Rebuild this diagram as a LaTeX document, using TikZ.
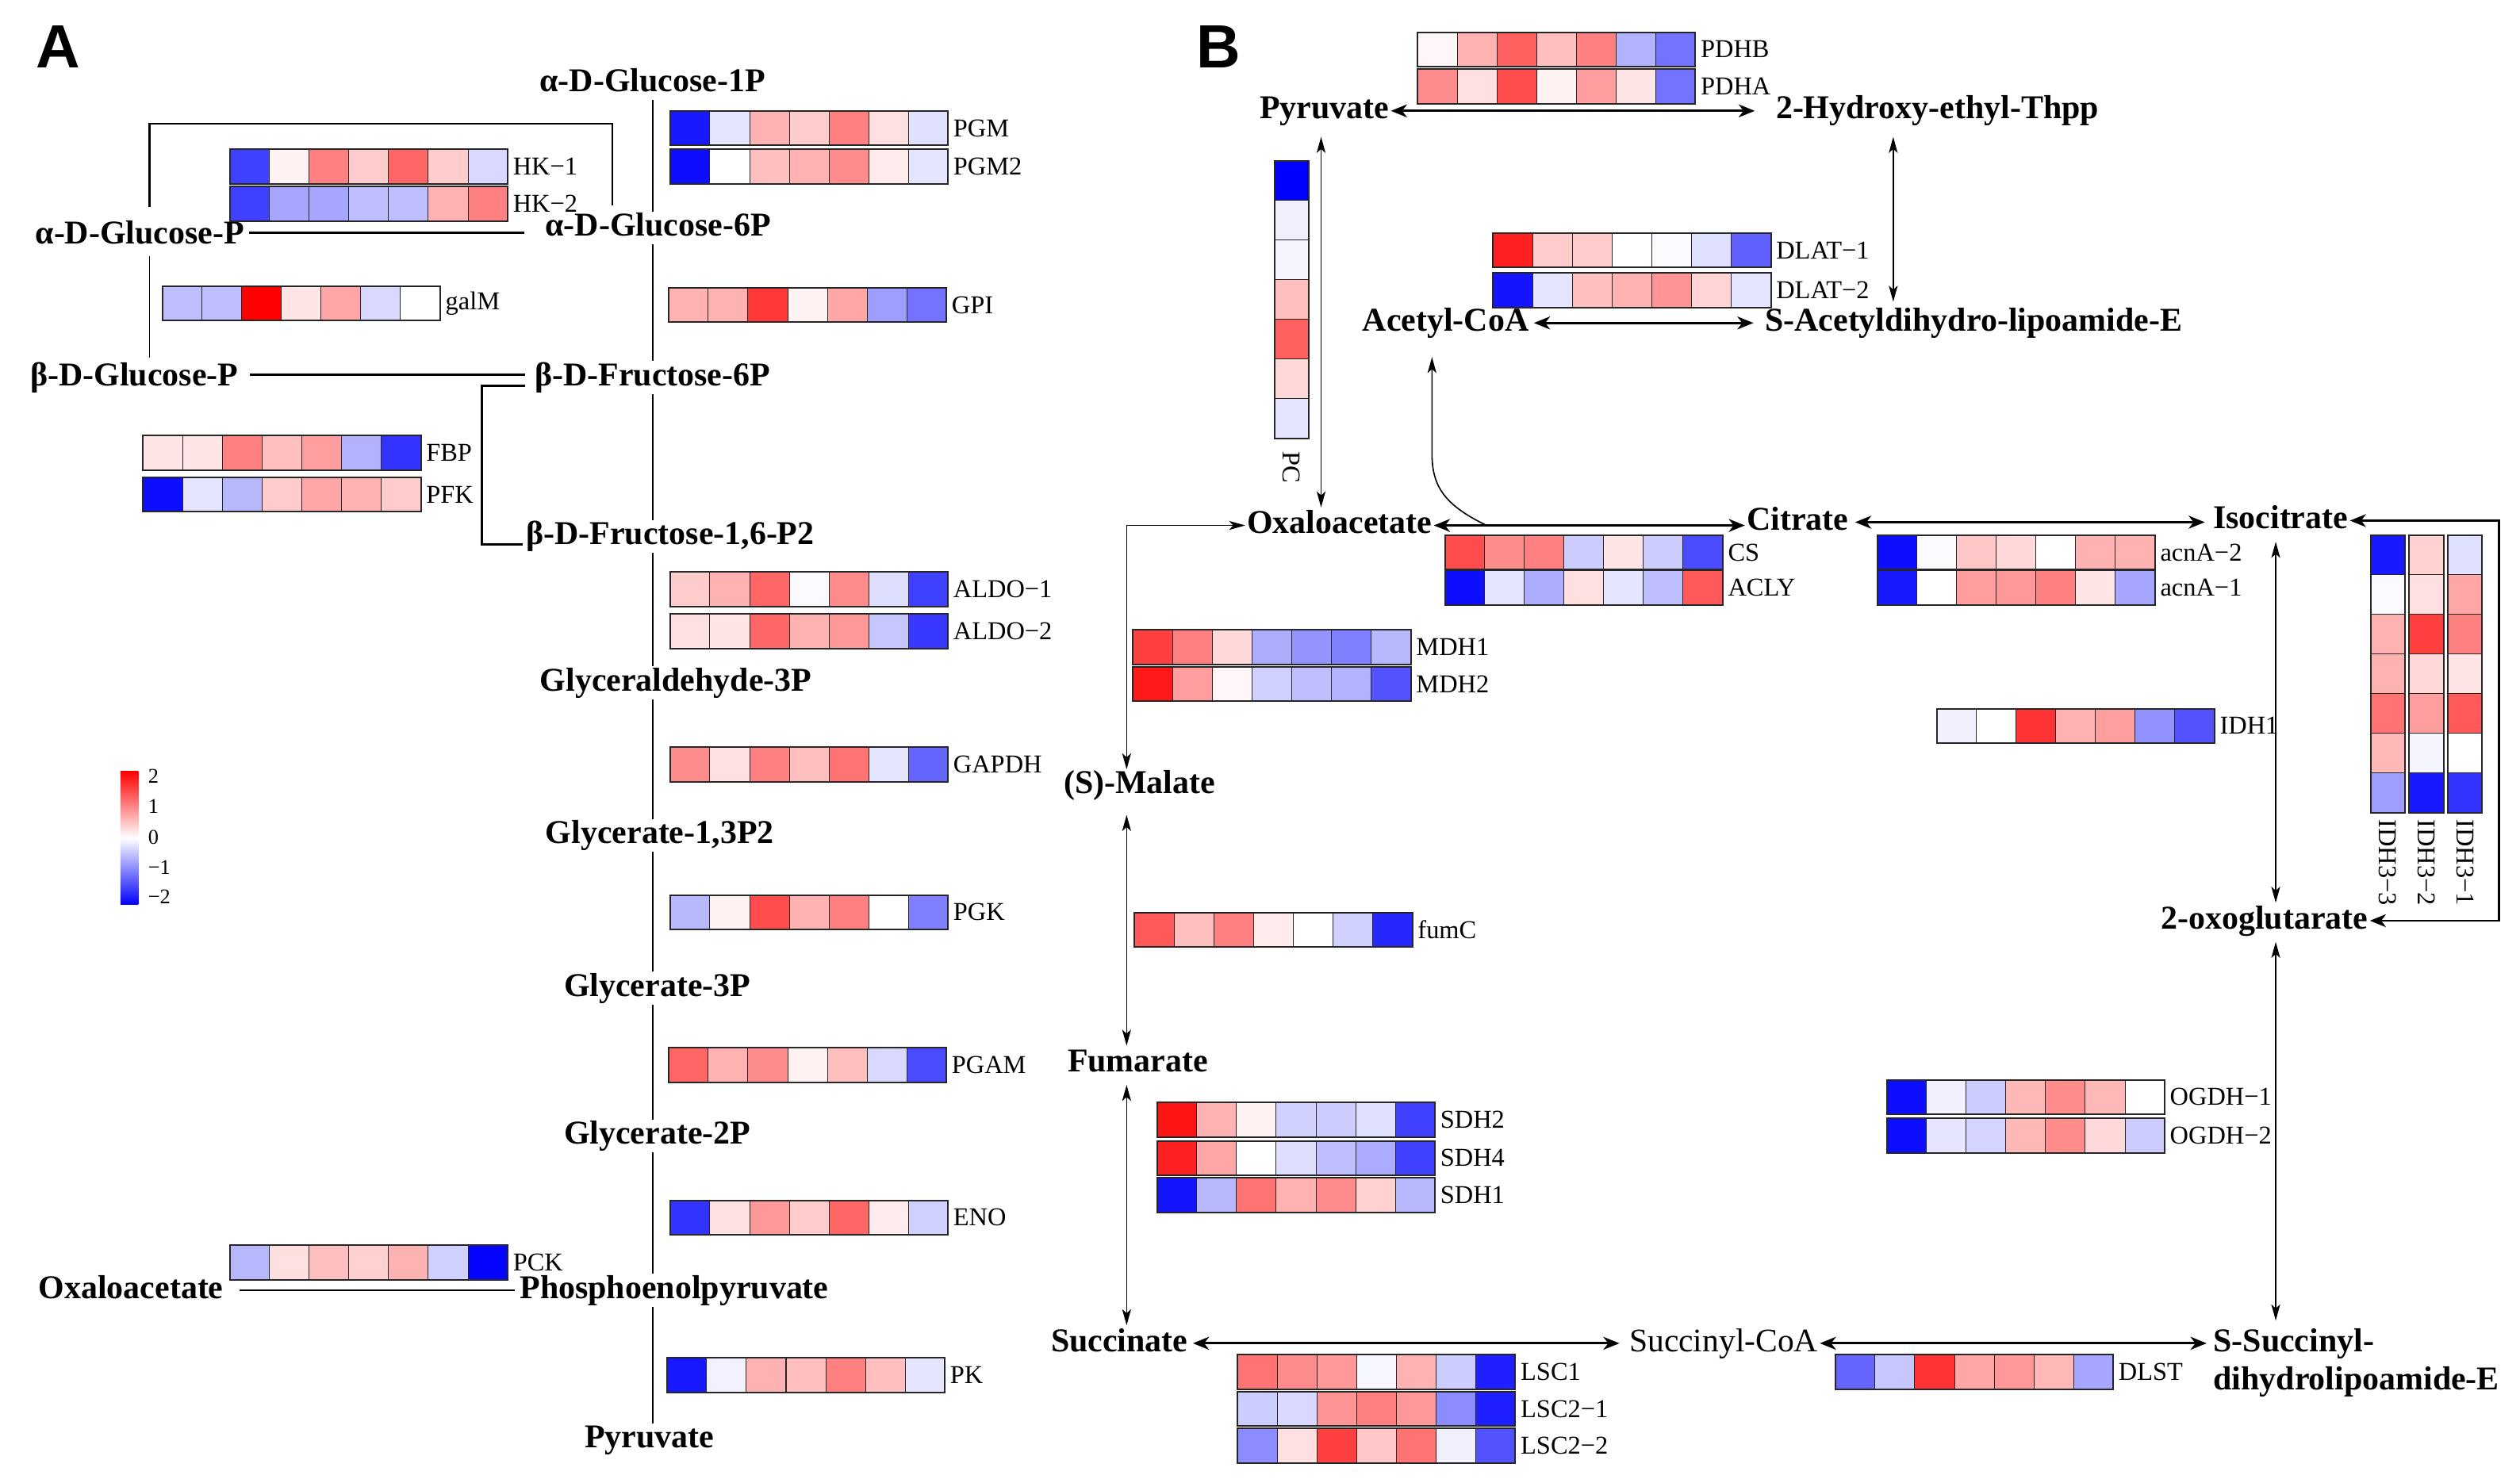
\documentclass[tikz,border=0pt]{standalone}
\usepackage{fontspec}
\setmainfont{Liberation Serif}
\newfontfamily\letterfont{Liberation Sans}
\usetikzlibrary{arrows.meta}
\newcommand\hmcol[1]{\ifnum#1<0 \edef\hmp{\the\numexpr 0-(#1)\relax}\colorlet{hmc}{blue!\hmp!white}\else\colorlet{hmc}{red!#1!white}\fi}
% horizontal heat row: name, x, y, values, label
\newcommand\hrow[5]{%
  \foreach \v [count=\i from 0] in {#4}{%
    \hmcol{\v}%
    \filldraw[cellst, fill=hmc] ({#2+\i*24.7},#3) rectangle ++(24.7,21.5);
  }
  \draw[outerst] (#2,#3) rectangle ++(172.9,21.5);
  \node[gene, anchor=west] (#1) at ({#2+175},{#3+10.75}) {#5};
}
% vertical heat column: x, y, values
\newcommand\vcol[3]{%
  \foreach \v [count=\i from 0] in {#3}{%
    \hmcol{\v}%
    \filldraw[cellst, fill=hmc] (#1,{#2+\i*24.7}) rectangle ++(21.5,24.7);
  }
  \draw[outerst] (#1,#2) rectangle ++(21.5,172.9);
}
\tikzset{
  cellst/.style={draw=black!85, line width=0.5pt},
  outerst/.style={draw=black!85, line width=1pt},
  met/.style={font=\bfseries\fontsize{20.7}{24}\selectfont, inner sep=1pt, text height=14pt, text depth=4pt},
  metr/.style={font=\fontsize{20.5}{24}\selectfont, inner sep=1pt, text height=14pt, text depth=4pt},
  gene/.style={font=\fontsize{16}{18}\selectfont, inner sep=1pt},
  leg/.style={font=\fontsize{13}{14}\selectfont, inner sep=0pt, anchor=west},
  pl/.style={line width=0.9pt},
  plh/.style={line width=1.4pt},
  harr/.style={line width=1.5pt, {Stealth[length=10pt,width=8pt,inset=3pt]}-{Stealth[length=10pt,width=8pt,inset=3pt]}},
  varr/.style={line width=0.8pt, {Stealth[length=10pt,width=5.5pt,inset=2.5pt]}-{Stealth[length=10pt,width=5.5pt,inset=2.5pt]}},
}
\begin{document}
\begin{tikzpicture}[x=1pt,y=-1pt]
\useasboundingbox (0,0) rectangle (1568,920);
% ---------------- Panel A ----------------
\node[font=\letterfont\bfseries\fontsize{38}{40}\selectfont, inner sep=0pt] (lA) at (36,29) {A};
\node[met] (g1p) at (406,52) {α-D-Glucose-1P};
\node[met] (agp) at (87,147) {α-D-Glucose-P};
\node[met] (g6p) at (409.5,142) {α-D-Glucose-6P};
\node[met] (bgp) at (83.5,235) {β-D-Glucose-P};
\node[met] (f6p) at (406,235) {β-D-Fructose-6P};
\node[met] (f16) at (417,334) {β-D-Fructose-1,6-P2};
\node[met] (gap) at (420.5,425) {Glyceraldehyde-3P};
\node[met] (g13) at (410.5,520) {Glycerate-1,3P2};
\node[met] (g3p) at (409,615) {Glycerate-3P};
\node[met] (g2p) at (409,707) {Glycerate-2P};
\node[met] (oxaA) at (81.5,803) {Oxaloacetate};
\node[met] (pep) at (419.5,803) {Phosphoenolpyruvate};
\node[met] (pyrA) at (404,896) {Pyruvate};

\coordinate (cA) at (406,0);
\foreach \a/\b in {g1p/g6p,g6p/f6p,f6p/f16,f16/gap,gap/g13,g13/g3p,g3p/g2p,g2p/pep,pep/pyrA}{
  \draw[pl] (\a.south -| cA) -- (\b.north -| cA);
}
\coordinate (bkL) at (93,77);
\coordinate (bkR) at (381,77);
\draw[plh, shorten <=8pt, shorten >=4pt] (agp.north -| bkL) -- (bkL) -- (bkR) -- (g6p.north -| bkR);
\draw[plh, shorten <=2pt, shorten >=12pt] ([yshift=2pt]agp.east) -- ([yshift=2pt]agp.east -| g6p.west);
\draw[pl, shorten <=2pt, shorten >=2pt] (agp.south -| bkL) -- (bgp.north -| bkL);
\draw[plh, shorten <=6pt, shorten >=5pt] ([yshift=2pt]bgp.east) -- ([yshift=2pt]bgp.east -| f6p.west);
\coordinate (brk) at (300,0);
\draw[plh] ([xshift=-5pt,yshift=-5pt]f6p.west) -| ([yshift=-5pt]f16.west -| brk) -- ([xshift=-1pt,yshift=-5pt]f16.west);
\draw[plh, shorten <=9pt, shorten >=2pt] (oxaA.east) -- (oxaA.east -| pep.west);

\hrow{gHKa}{143}{93}{-75,5,50,20,60,20,-15}{HK−1}
\hrow{gHKb}{143}{116}{-75,-35,-35,-25,-25,30,50}{HK−2}
\hrow{gPGM}{417}{69}{-90,-10,30,20,50,12,-12}{PGM}
\hrow{gPGMb}{417}{93}{-95,0,25,30,45,8,-10}{PGM2}
\hrow{galM}{101}{178}{-25,-25,100,10,35,-15,0}{galM}
\hrow{gGPI}{416}{179}{30,30,78,5,35,-38,-55}{GPI}
\hrow{gFBP}{89}{271}{10,10,50,25,38,-30,-80}{FBP}
\hrow{gPFK}{89}{297}{-95,-10,-28,20,35,30,20}{PFK}
\hrow{gALa}{417}{356}{20,30,60,-2,45,-13,-75}{ALDO−1}
\hrow{gALb}{417}{382}{12,10,60,30,40,-22,-78}{ALDO−2}
\hrow{gGAPDH}{417}{465}{45,12,50,25,55,-10,-60}{GAPDH}
\hrow{gPGK}{417}{557}{-28,5,70,30,50,0,-50}{PGK}
\hrow{gPGAM}{416}{652}{60,30,45,5,25,-15,-70}{PGAM}
\hrow{gENO}{417}{747}{-80,12,40,20,60,8,-18}{ENO}
\hrow{gPCK}{143}{775}{-28,12,25,18,30,-18,-98}{PCK}
\hrow{gPK}{415}{845}{-90,-5,30,25,50,25,-10}{PK}

% legend
\shade[bottom color=blue, top color=red, middle color=white] (75,480) rectangle (86,563);
\node[leg] (l2) at (92,483) {2};
\node[leg] (l1) at (92,502) {1};
\node[leg] (l0) at (92,521) {0};
\node[leg] (lm1) at (92,540) {−1};
\node[leg] (lm2) at (92,558) {−2};

% ---------------- Panel B ----------------
\node[font=\letterfont\bfseries\fontsize{38}{40}\selectfont, inner sep=0pt] (lB) at (758,29) {B};
\node[met] (pyrB) at (824,69) {Pyruvate};
\node[met] (hyd) at (1205.5,69) {2-Hydroxy-ethyl-Thpp};
\node[met] (acoa) at (899.5,201) {Acetyl-CoA};
\node[met] (sacet) at (1228,201) {S-Acetyldihydro-lipoamide-E};
\node[met] (oxaB) at (833.5,327) {Oxaloacetate};
\node[met] (cit) at (1118.5,325) {Citrate};
\node[met] (iso) at (1419,324) {Isocitrate};
\node[met] (mal) at (709,489) {(S)-Malate};
\node[met] (oxo) at (1409,573) {2-oxoglutarate};
\node[met] (fum) at (708,662) {Fumarate};
\node[met] (suc) at (696.5,836) {Succinate};
\node[metr] (sucoa) at (1072.5,836) {Succinyl-CoA};
\node[met, anchor=west] (ssuc) at (1376,836) {S-Succinyl-};
\node[met, anchor=west] (ssucb) at (1376,860) {dihydrolipoamide-E};

\coordinate (xp) at (822,0);
\coordinate (xh) at (1178,0);
\coordinate (xa) at (891,0);
\coordinate (cj) at (925,327);
\coordinate (xi) at (1416,0);
\coordinate (xm) at (701,0);
\coordinate (rb) at (1555,0);

\draw[harr, shorten >=12pt] (pyrB.east) -- (hyd.west);
\draw[varr, shorten <=6pt, shorten >=3pt] (hyd.south -| xh) -- (sacet.north -| xh);
\draw[harr, shorten <=2pt, shorten >=6pt] (acoa.east) -- (sacet.west);
\draw[varr, shorten <=6pt, shorten >=1pt] (pyrB.south -| xp) -- (oxaB.north -| xp);
\draw[line width=0.8pt, -{Stealth[length=10pt,width=5.5pt,inset=2.5pt]}, shorten >=11pt] (cj) .. controls (898,314) and (891,302) .. (891,282) -- (acoa.south -| xa);
\draw[harr] (oxaB.east) -- (oxaB.east -| cit.west);
\draw[harr, shorten <=3pt, shorten >=4pt] (cit.east) -- (cit.east -| iso.west);
\draw[line width=1.2pt, {Stealth[length=10pt,width=8pt,inset=3pt]}-{Stealth[length=10pt,width=8pt,inset=3pt]}] (iso.east) -- (iso.east -| rb) -- (oxo.east -| rb) -- (oxo.east);
\draw[varr, shorten <=3pt, shorten >=1pt] (iso.south -| xi) -- (oxo.north -| xi);
\draw[varr, shorten <=3pt, shorten >=4pt] (oxo.south -| xi) -- (ssuc.north -| xi);
\draw[varr] (mal.north -| xm) |- (oxaB.west);
\draw[varr, shorten <=8pt, shorten >=1pt] (mal.south -| xm) -- (fum.north -| xm);
\draw[varr, shorten <=3pt, shorten >=1pt] (fum.south -| xm) -- (suc.north -| xm);
\draw[harr, shorten <=2pt, shorten >=5pt] (suc.east) -- (sucoa.west);
\draw[harr, shorten >=3pt] (sucoa.east) -- (ssuc.west);

\hrow{gPDHB}{882}{20}{3,30,62,25,50,-30,-55}{PDHB}
\hrow{gPDHA}{882}{43}{45,12,70,5,38,10,-55}{PDHA}
\hrow{gDLa}{929}{145}{87,20,20,0,-2,-12,-62}{DLAT−1}
\hrow{gDLb}{929}{170}{-92,-10,25,30,42,17,-10}{DLAT−2}
\vcol{793}{100}{-100,-6,-4,25,62,15,-10}
\node[gene, rotate=-90, anchor=west] (gPC) at (803.75,280) {PC};
\hrow{gCS}{899}{333}{70,45,50,-20,10,-20,-70}{CS}
\hrow{gACLY}{899}{355}{-95,-10,-32,12,-10,-25,65}{ACLY}
\hrow{gAcb}{1168}{333}{-95,-2,22,15,0,30,30}{acnA−2}
\hrow{gAca}{1168}{355}{-90,0,38,40,50,10,-35}{acnA−1}
\vcol{1475}{333}{-90,-2,30,30,55,28,-38}
\vcol{1499}{333}{18,12,75,15,38,-4,-90}
\vcol{1523}{333}{-12,35,50,10,65,0,-80}
\node[gene, rotate=-90, anchor=west] (gI3c) at (1485.75,509) {IDH3−3};
\node[gene, rotate=-90, anchor=west] (gI3b) at (1509.75,509) {IDH3−2};
\node[gene, rotate=-90, anchor=west] (gI3a) at (1533.75,509) {IDH3−1};
\hrow{gIDH}{1205}{441}{-6,0,80,30,38,-43,-68}{IDH1}
\hrow{gMDHa}{705}{392}{75,50,15,-32,-42,-50,-28}{MDH1}
\hrow{gMDHb}{705}{415}{90,38,3,-18,-25,-30,-68}{MDH2}
\hrow{gfumC}{706}{568}{65,25,50,8,0,-18,-85}{fumC}
\hrow{gSDHb}{720}{686}{92,30,5,-18,-20,-12,-75}{SDH2}
\hrow{gSDHd}{720}{710}{87,35,0,-13,-25,-33,-75}{SDH4}
\hrow{gSDHa}{720}{733}{-92,-28,55,30,45,18,-28}{SDH1}
\hrow{gOGa}{1174}{672}{-95,-6,-20,28,45,28,0}{OGDH−1}
\hrow{gOGb}{1174}{696}{-95,-10,-17,28,45,15,-20}{OGDH−2}
\hrow{gLSa}{770}{843}{55,45,40,-3,30,-20,-88}{LSC1}
\hrow{gLSb}{770}{866}{-20,-15,42,50,40,-45,-88}{LSC2−1}
\hrow{gLSc}{770}{889}{-45,12,75,22,55,-6,-68}{LSC2−2}
\hrow{gDLST}{1142}{843}{-60,-22,80,35,40,28,-35}{DLST}
\end{tikzpicture}
\end{document}
